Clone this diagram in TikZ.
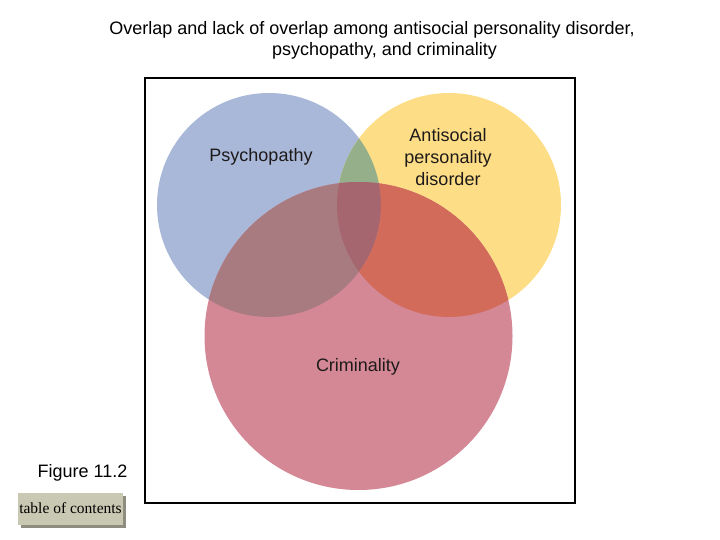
\documentclass[tikz,border=0pt]{standalone}
\usepackage{fontspec}
\setmainfont{Liberation Sans}
\newfontfamily\serifbtn{Liberation Serif}
\definecolor{cblue}{HTML}{A9B8D9}
\definecolor{cyellow}{HTML}{FDDD85}
\definecolor{cred}{HTML}{D48896}
\definecolor{cgreen}{HTML}{96AF8B}
\definecolor{cbr}{HTML}{A87B81}
\definecolor{cyr}{HTML}{D26B5A}
\definecolor{call}{HTML}{A66670}
\definecolor{btnfill}{HTML}{C9C8B3}
\definecolor{btnshadow}{HTML}{8E8D80}
\definecolor{labeltext}{HTML}{1E1A1A}
\tikzset{
  circlabel/.style={font=\fontsize{18}{22}\selectfont, text=labeltext, align=center, inner sep=0pt},
  titletext/.style={font=\fontsize{18}{21}\selectfont, anchor=base, inner sep=0pt}
}
\begin{document}
\begin{tikzpicture}[x=1pt,y=-1pt]
\useasboundingbox (0,0) rectangle (720,540);
\fill[white] (0,0) rectangle (720,540);
% title
\node[titletext] (title1) at (372,35) {Overlap and lack of overlap among antisocial personality disorder,};
\node[titletext] (title2) at (384.5,55.5) {psychopathy, and criminality};
% frame
\draw[line width=1.6pt] (145,78) rectangle (575,503);
% circles
\def\blue{(269,205) circle (112)}
\def\yel{(449,205) circle (112)}
\def\red{(358.5,336) circle (154)}
\fill[cblue] \blue;
\fill[cyellow] \yel;
\fill[cred] \red;
\begin{scope}
  \clip \blue;
  \fill[cgreen] \yel;
  \fill[cbr] \red;
  \clip \yel;
  \fill[call] \red;
\end{scope}
\begin{scope}
  \clip \yel;
  \clip \red;
  \begin{scope}[even odd rule]
    \clip (0,0) rectangle (720,540) \blue;
    \fill[cyr] (0,0) rectangle (720,540);
  \end{scope}
\end{scope}
% labels
\node[circlabel] (psy) at (261,156.5) {Psychopathy};
\node[circlabel] (asp) at (448,157.5) {Antisocial\\personality\\disorder};
\node[circlabel] (crim) at (358,366.5) {Criminality};
\node[font=\fontsize{18}{20}\selectfont, inner sep=0pt] (fig) at (82.5,472.5) {Figure 11.2};
% button
\fill[btnshadow] (21,496) rectangle (125.5,528);
\fill[btnfill] (18,493) rectangle (122.5,525);
\node[font=\serifbtn\fontsize{15.5}{17}\selectfont, anchor=base, inner sep=0pt] (toc) at (70.5,513) {table of contents};
\end{tikzpicture}
\end{document}
